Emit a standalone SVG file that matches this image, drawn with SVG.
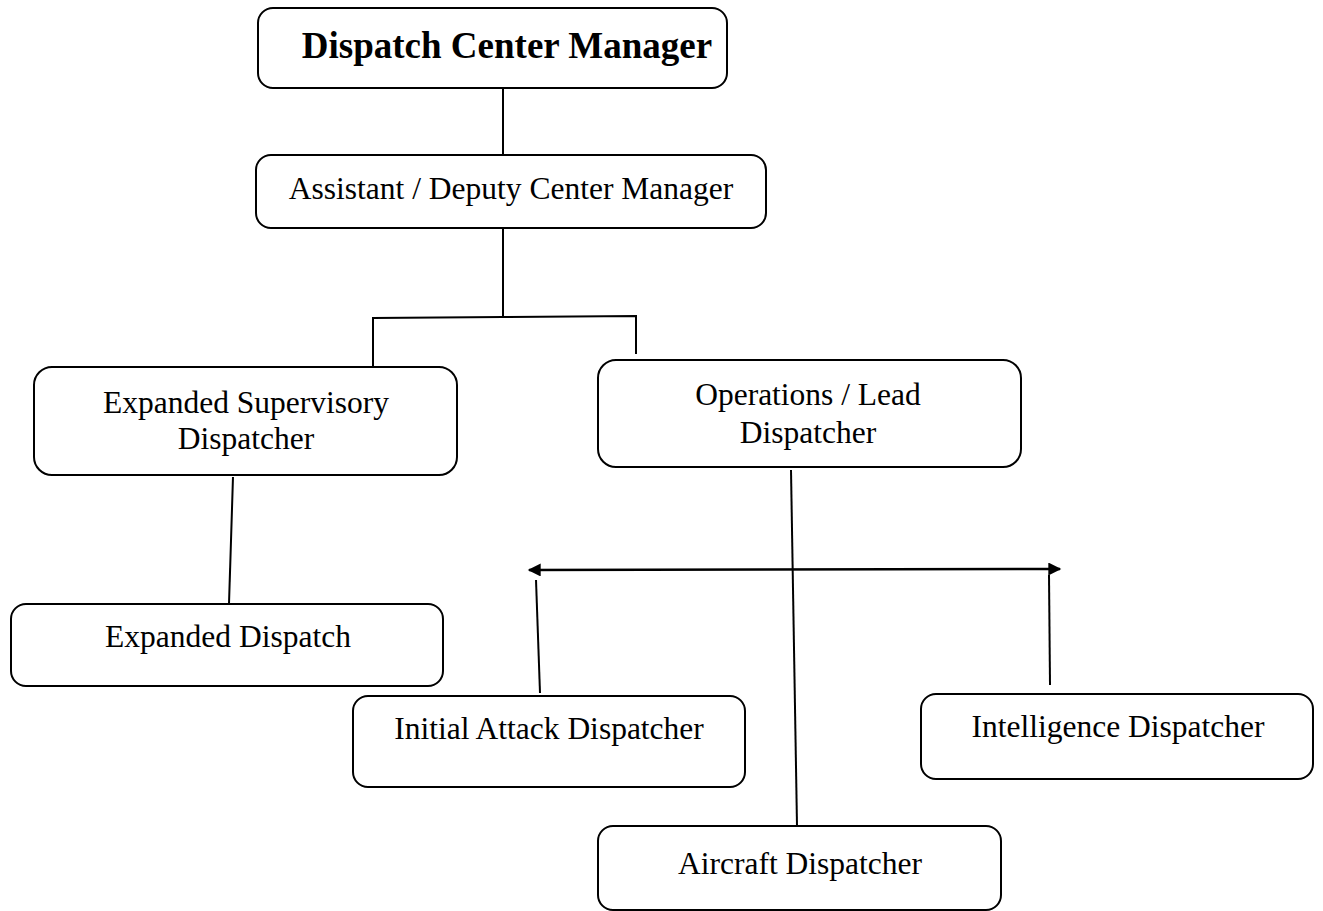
<svg xmlns="http://www.w3.org/2000/svg" width="1323" height="911" viewBox="0 0 1323 911">
<style>
.box{fill:#fff;stroke:#000;stroke-width:2}
.t{font-family:"Liberation Serif","Times New Roman",serif;font-size:31.5px;fill:#000;text-anchor:middle}
.b{font-weight:bold;font-size:37px}
.c{stroke:#000;stroke-width:2;fill:none}
</style>
<defs>
<marker id="ah" viewBox="0 0 10 10" refX="9" refY="5" markerWidth="14" markerHeight="13" markerUnits="userSpaceOnUse" orient="auto-start-reverse">
<path d="M0,0 L10,5 L0,10 z" fill="#000"/>
</marker>
</defs>
<rect width="1323" height="911" fill="#fff"/>
<g id="connectors">
<line class="c" x1="503" y1="88" x2="503" y2="155"/>
<line class="c" x1="503" y1="228" x2="503" y2="317"/>
<polyline class="c" points="373,368 373,318 503,317 636,316 636,354"/>
<line class="c" x1="233" y1="477" x2="229" y2="604"/>
<line class="c" x1="791" y1="470" x2="797" y2="826"/>
<line class="c" x1="529" y1="570" x2="1060" y2="569" marker-start="url(#ah)" marker-end="url(#ah)" style="stroke-width:2.5"/>
<line class="c" x1="540" y1="693" x2="536" y2="580"/>
<line class="c" x1="1050" y1="685" x2="1049" y2="575"/>
</g>
<g id="n1"><rect class="box" x="258" y="8" width="469" height="80" rx="15"/><text class="t b" x="507" y="58">Dispatch Center Manager</text></g>
<g id="n2"><rect class="box" x="256" y="155" width="510" height="73" rx="15"/><text class="t" x="511" y="199">Assistant / Deputy Center Manager</text></g>
<g id="n3"><rect class="box" x="34" y="367" width="423" height="108" rx="18"/><text class="t" x="246" y="413">Expanded Supervisory</text><text class="t" x="246" y="449">Dispatcher</text></g>
<g id="n4"><rect class="box" x="598" y="360" width="423" height="107" rx="18"/><text class="t" x="808" y="405">Operations / Lead</text><text class="t" x="808" y="443">Dispatcher</text></g>
<g id="n5"><rect class="box" x="11" y="604" width="432" height="82" rx="15"/><text class="t" x="228" y="647">Expanded Dispatch</text></g>
<g id="n6"><rect class="box" x="353" y="696" width="392" height="91" rx="15"/><text class="t" x="549" y="739">Initial Attack Dispatcher</text></g>
<g id="n7"><rect class="box" x="921" y="694" width="392" height="85" rx="15"/><text class="t" x="1118" y="737">Intelligence Dispatcher</text></g>
<g id="n8"><rect class="box" x="598" y="826" width="403" height="84" rx="15"/><text class="t" x="800" y="874">Aircraft Dispatcher</text></g>
</svg>
